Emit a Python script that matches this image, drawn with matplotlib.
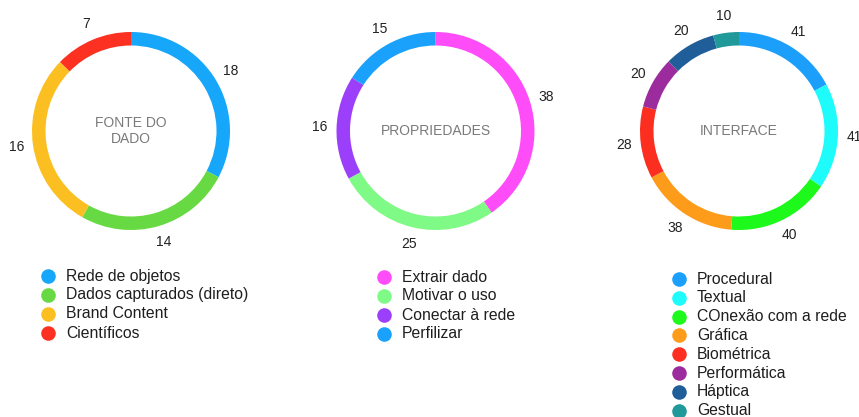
import numpy as np
import matplotlib
matplotlib.use("Agg")
import matplotlib.pyplot as plt

plt.rcParams['font.family'] = ['Liberation Sans', 'DejaVu Sans']

# ---- data ----
fonte_labels = ["Rede de objetos", "Dados capturados (direto)", "Brand Content", "Científicos"]
fonte_values = [18, 14, 16, 7]
fonte_colors = ["#16A6FA", "#67D942", "#FBBF22", "#FC3122"]

prop_labels = ["Extrair dado", "Motivar o uso", "Conectar à rede", "Perfilizar"]
prop_values = [38, 25, 16, 15]
prop_colors = ["#FF4CF9", "#80FA86", "#9C3FFA", "#1AA1FB"]

inter_labels = ["Procedural", "Textual", "COnexão com a rede", "Gráfica", "Biométrica",
                "Performática", "Háptica", "Gestual"]
inter_values = [41, 41, 40, 38, 28, 20, 20, 10]
inter_colors = ["#1C9FFB", "#1EFBFB", "#1CF91A", "#FD9B1B", "#FC2E1F", "#9C2C9E",
                "#1F5E98", "#1F999A"]

titles = ["FONTE DO\nDADO", "PROPRIEDADES", "INTERFACE"]

W, H = 859, 417
fig = plt.figure(figsize=(W / 100, H / 100), dpi=100)
ax = fig.add_axes([0, 0, 1, 1])
ax.set_xlim(0, W)
ax.set_ylim(0, H)
ax.set_aspect('equal')
ax.axis('off')

centers_x = [131, 435.5, 739]
center_y = H - 131
R = 99
ring = 13.5

legend_specs = [
    (48, 66, 276, 19.0),
    (384, 402, 277, 19.0),
    (679, 697, 279, 18.8),
]

groups = [(fonte_labels, fonte_values, fonte_colors),
          (prop_labels, prop_values, prop_colors),
          (inter_labels, inter_values, inter_colors)]

for i, (labels, values, colors) in enumerate(groups):
    cx = centers_x[i]
    ax.pie(values, colors=colors, startangle=90, counterclock=False,
           center=(cx, center_y), radius=R, frame=True,
           wedgeprops=dict(width=ring, linewidth=0))
    total = float(sum(values))
    cum = 0.0
    for v in values:
        mid = (cum + v / 2.0) / total * 2 * np.pi
        cum += v
        lr = R * 1.17
        ax.text(cx + lr * np.sin(mid), center_y + lr * np.cos(mid), str(v),
                ha='center', va='center', fontsize=10, color='#222222')
    ax.text(cx, center_y, titles[i], ha='center', va='center', fontsize=10,
            color='#7a7a7a', linespacing=1.15)
    mx, tx, y0, dy = legend_specs[i]
    for j, (lab, col) in enumerate(zip(labels, colors)):
        yy = H - (y0 + j * dy)
        ax.scatter([mx], [yy], s=110, color=col, linewidths=0, zorder=3)
        ax.text(tx, yy, lab, ha='left', va='center', fontsize=11.3, color='#1e1e1e')

ax.set_xlim(0, W)
ax.set_ylim(0, H)
ax.axis('off')
fig.savefig("out.png", dpi=100, facecolor='white')
